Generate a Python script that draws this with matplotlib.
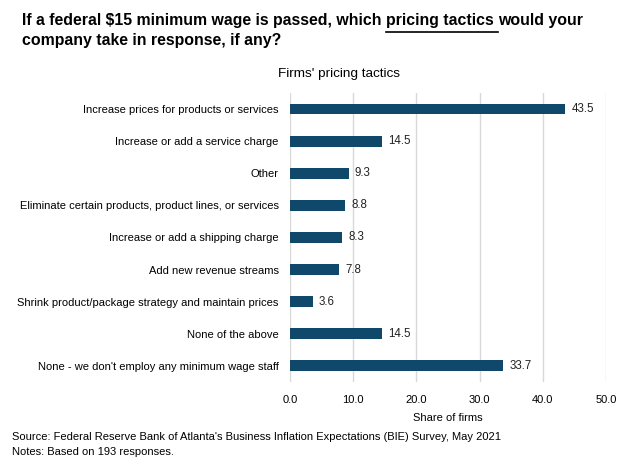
import matplotlib.pyplot as plt
from matplotlib.lines import Line2D

plt.rcParams['font.family'] = ['Liberation Sans', 'DejaVu Sans']

# Datos
tactics = ['Increase prices for products or services',
           'Increase or add a service charge',
           'Other',
           'Eliminate certain products, product lines, or services',
           'Increase or add a shipping charge',
           'Add new revenue streams',
           'Shrink product/package strategy and maintain prices',
           'None of the above',
           "None - we don't employ any minimum wage staff"]
shares = [43.5, 14.5, 9.3, 8.8, 8.3, 7.8, 3.6, 14.5, 33.7]
ticks = [0, 10, 20, 30, 40, 50]

fig = plt.figure(figsize=(6.3, 4.67), dpi=100)
ax = fig.add_axes([0.460, 0.182, 0.502, 0.619])

ypos = list(range(len(tactics)))
ax.barh(ypos, shares, height=0.34, color='#10486b', zorder=3)
for y, v in zip(ypos, shares):
    ax.text(v + 1.0, y, f'{v:.1f}', va='center', ha='left', fontsize=8.3, color='#222222')

ax.set_ylim(len(tactics) - 0.5, -0.5)
ax.set_xlim(0, 50)
ax.set_yticks(ypos)
ax.set_yticklabels(tactics, fontsize=8)
ax.set_xticks(ticks)
ax.set_xticklabels([f'{t:.1f}' for t in ticks], fontsize=8)
ax.tick_params(length=0, pad=8)
ax.tick_params(axis='x', pad=9)
ax.grid(axis='x', color='#d9d9d9', linewidth=1, zorder=0)
for s in ax.spines.values():
    s.set_visible(False)
ax.set_xlabel('Share of firms', fontsize=8, labelpad=6)

fig.text(338.5 / 630, 1 - 77 / 467, "Firms' pricing tactics", ha='center', fontsize=9.7)

# Titulo con subrayado
fs = 11.4
tx = 22 / 630
ty1 = 1 - 21 / 467
renderer = fig.canvas.get_renderer()
t1 = fig.text(tx, ty1, 'If a federal $15 minimum wage is passed, which ',
              fontsize=fs, fontweight='bold', va='center')
bb = t1.get_window_extent(renderer)
x2 = bb.x1 / fig.bbox.width
t2 = fig.text(x2, ty1, 'pricing tactics ', fontsize=fs, fontweight='bold', va='center')
bb2 = t2.get_window_extent(renderer)
x3 = bb2.x1 / fig.bbox.width
fig.text(x3, ty1, 'would your', fontsize=fs, fontweight='bold', va='center')
uy = 1 - 31.5 / 467
fig.add_artist(Line2D([x2, x3], [uy, uy], color='black', linewidth=1.2,
                      transform=fig.transFigure))
fig.text(tx, 1 - 40 / 467, 'company take in response, if any?',
         fontsize=fs, fontweight='bold', va='center')

fig.text(12 / 630, 1 - 437 / 467,
         "Source: Federal Reserve Bank of Atlanta's Business Inflation Expectations (BIE) Survey, May 2021",
         fontsize=8, va='center')
fig.text(12 / 630, 1 - 452 / 467, 'Notes: Based on 193 responses.', fontsize=8, va='center')

fig.savefig('out.png', dpi=100)
